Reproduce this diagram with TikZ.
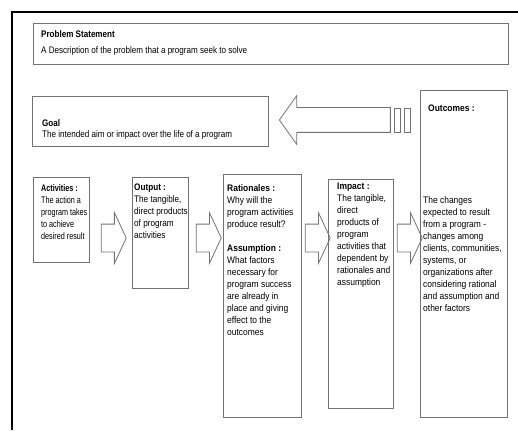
\documentclass[tikz,border=0pt]{standalone}
\usepackage{fontspec}
\setmainfont{Liberation Sans}[FakeStretch=0.85]
\newfontfamily\actfont{Liberation Sans}[FakeStretch=0.76]
\newfontfamily\midfont{Liberation Sans}[FakeStretch=0.86]
\newfontfamily\widefont{Liberation Sans}[FakeStretch=0.89]
\usetikzlibrary{positioning,shapes.arrows,calc}

\tikzset{
    boxframe/.style = {draw=black!55, line width=0.8pt, rectangle,
        inner sep=0pt, outer sep=0pt, anchor=north west},
     toptext/.style = {anchor=north west, align=left, inner sep=0pt,
        font=\fontsize{9.5}{11}\selectfont},
    flowtext/.style = {anchor=north west, align=left, inner sep=0pt,
        font=#1\fontsize{9.5}{12}\selectfont},
    flowtext/.default = \widefont,
  blockarrow/.style = {single arrow, draw=black!55, line width=0.8pt,
        inner sep=0pt, text width=0pt, text height=13.5pt, text depth=13.5pt,
        minimum height=25pt, single arrow head extend=11.5pt,
        single arrow tip angle=130},
      stripe/.style = {draw=black!55, line width=0.8pt, rectangle,
        inner sep=0pt, minimum width=6pt, minimum height=24pt}
}

\begin{document}
\begin{tikzpicture}[x=1pt, y=-1pt]
\useasboundingbox (0,0) rectangle (518,430);
% outer frame
\draw[line width=2pt] (12,430) |- (518,12);
% the boxes at the top
\node (prob) [boxframe, minimum width=475pt, minimum height=41pt] at (33,23) {};
\node (probt) [toptext] at ([shift={(8,7)}]prob.north west)
        {\textbf{Problem Statement}\\[5pt]
         A Description of the problem that a program seek to solve};
\node (goal) [boxframe, minimum width=236pt, minimum height=50pt] at (32,96) {};
\node (goalt) [toptext] at ([shift={(10,23)}]goal.north west)
        {\textbf{Goal}\\
         The intended aim or impact over the life of a program};
% the row of boxes
\node (act) [boxframe, minimum width=56pt, minimum height=85pt] at (33,177) {};
\node (out) [boxframe, minimum width=56pt, minimum height=111pt] at (132,177) {};
\node (rat) [boxframe, minimum width=78pt, minimum height=243pt] at (223,174) {};
\node (imp) [boxframe, minimum width=65pt, minimum height=229pt] at (328,179) {};
\node (outc) [boxframe, minimum width=87pt, minimum height=327pt] at (420,90) {};
% texts in the boxes
\node (actt) [flowtext=\actfont] at ([shift={(8,7)}]act.north west)
        {\textbf{Activities :}\\
         The action a\\program takes\\to achieve\\desired result};
\node (outt) [flowtext=\midfont] at ([shift={(2,7)}]out.north west)
        {\textbf{Output :}\\
         The tangible,\\direct products\\of program\\activities};
\node (ratt) [flowtext] at ([shift={(4,10)}]rat.north west)
        {\textbf{Rationales :}\\
         Why will the\\program activities\\produce result?\\[12pt]
         \textbf{Assumption :}\\
         What factors\\necessary for\\program success\\are already in\\
         place and giving\\effect to the\\outcomes};
\node (impt) [flowtext] at ([shift={(9,4)}]imp.north west)
        {\textbf{Impact :}\\
         The tangible,\\direct\\products of\\program\\activities that\\
         dependent by\\rationales and\\assumption};
\node (outct) [flowtext] at ([shift={(8,15)}]outc.north west)
        {\textbf{Outcomes :}};
\node (outcb) [flowtext] at ([shift={(3,106)}]outc.north west)
        {The changes\\expected to result\\from a program -\\changes among\\
         clients, communities,\\systems, or\\organizations after\\
         considering rational\\and assumption and\\other factors};
% block arrows between the boxes
\coordinate (row) at (0,238);
\node (a1) [blockarrow] at ($(act.east |- row)!.5!(out.west |- row)$) {};
\node (a2) [blockarrow] at ($(out.east |- row)!.5!(rat.west |- row)$) {};
\node (a3) [blockarrow] at ($(rat.east |- row)!.5!(imp.west |- row)$) {};
\node (a4) [blockarrow] at ($(imp.east |- row)!.5!(outc.west |- row)$) {};
% striped arrow back to the goal
\node (s2) [stripe] at (407,120) {};
\node (s1) [stripe, left=3pt of s2] {};
\node (back) [blockarrow, shape border rotate=180, text height=12pt,
        text depth=12pt, minimum height=111pt, single arrow head extend=12pt,
        single arrow tip angle=109, left=3pt of s1] {};
\end{tikzpicture}
\end{document}
